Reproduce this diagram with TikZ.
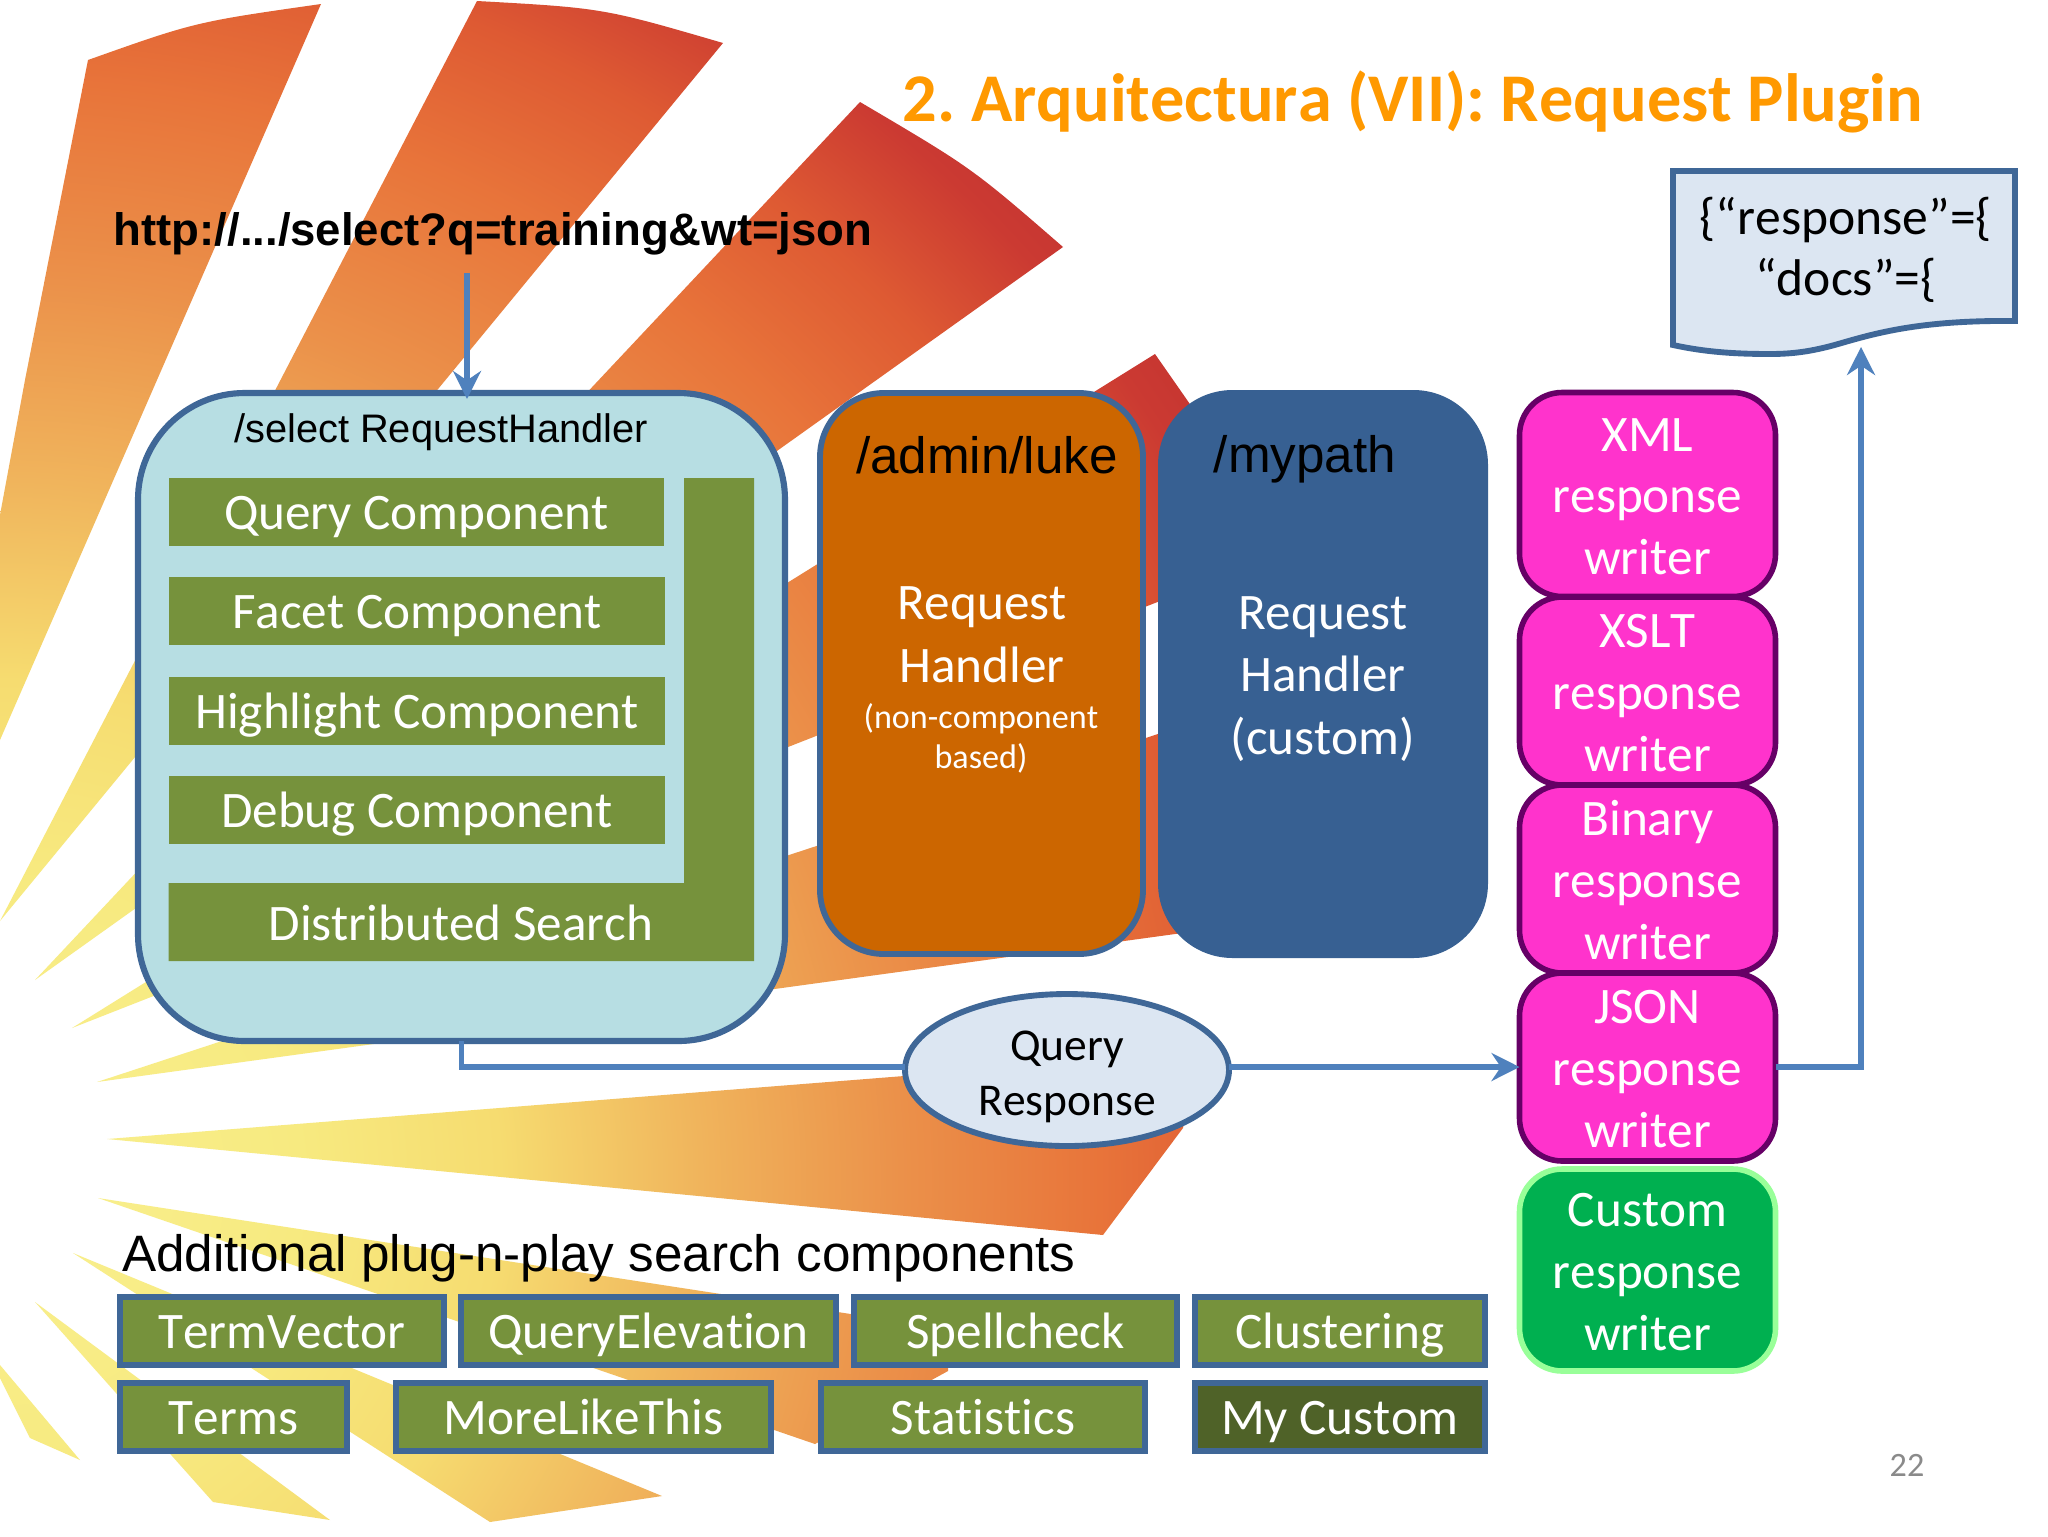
\documentclass[tikz,border=0pt]{standalone}
\usepackage{fontspec}
\setmainfont[Ligatures=NoCommon,Kerning=Off]{Carlito}
\newfontfamily\lib{Liberation Sans}
\usetikzlibrary{arrows.meta,shapes.geometric}
\definecolor{sa}{HTML}{F9F090}\definecolor{sb}{HTML}{F7EA80}\definecolor{sc}{HTML}{F6DC70}
\definecolor{sd}{HTML}{F0B45C}\definecolor{se}{HTML}{EB914A}\definecolor{sf}{HTML}{E8743A}
\definecolor{sg}{HTML}{DE5A33}\definecolor{sh}{HTML}{CB3A32}\definecolor{si}{HTML}{C03030}
\definecolor{edge}{HTML}{3F6797}\definecolor{conn}{HTML}{4F81BD}\definecolor{ogreen}{HTML}{76923C}
\definecolor{dgreen}{HTML}{4F6228}\definecolor{pale}{HTML}{B7DEE3}\definecolor{orbox}{HTML}{CC6600}
\definecolor{blbox}{HTML}{376092}\definecolor{pink}{HTML}{FF33CC}\definecolor{plum}{HTML}{660066}
\definecolor{cgreen}{HTML}{00B050}\definecolor{lgreen}{HTML}{99FF99}\definecolor{paper}{HTML}{DCE6F2}
\definecolor{ttl}{HTML}{FF9900}\definecolor{pgnum}{HTML}{8A8A8A}
\pgfdeclareradialshading{sun}{\pgfpoint{0bp}{0bp}}{color(0bp)=(sa);color(5bp)=(sb);color(8.33bp)=(sc);color(11.67bp)=(sd);color(15bp)=(se);color(18.33bp)=(sf);color(20.83bp)=(sg);color(23bp)=(sh);color(25bp)=(si);color(50bp)=(si)}
\def\upx{0.375pt}
\newcommand\firstline{\rule{0pt}{14pt}}
\tikzset{
  x=0.375pt,y=-0.375pt,
  base/.style={inner sep=0pt,outer sep=0pt,align=center,font=\fontsize{19.2}{23.4}\selectfont},
  plug/.style={base,rectangle,draw=edge,line width=2.25pt,fill=ogreen,text=white,text height=13.4pt,text depth=0pt},
  comp/.style={base,rectangle,fill=ogreen,text=white,text height=13.4pt,text depth=0pt},
  writer/.style={base,font=\fontsize{19.2}{23.1}\selectfont,rectangle,rounded corners=16pt,draw=plum,line width=2.1pt,fill=pink,text=white,minimum width=256*\upx},
  whitetext/.style={base,text=white},
  arial/.style={base,font=\lib\fontsize{19.2}{23.4}\selectfont},
  flow/.style={draw=conn,line width=2pt,-{Stealth[length=10.5pt,width=10.5pt,inset=3.5pt]}},
  flowplain/.style={draw=conn,line width=2pt},
}
\begin{document}
\frenchspacing
\begin{tikzpicture}
\useasboundingbox (0,0) rectangle (2048,1536);
\fill[white] (0,0) rectangle (2048,1536);
% sunburst
\begin{scope}
\clip
 (88,60) .. controls (195,22) .. (321,4) -- (0,740) -- (0,515) -- (25,380) -- cycle
 (477,1) .. controls (603,8) .. (723,43) -- (0,921) -- cycle
 (860,102) .. controls (972,168) .. (1063,247) -- (35,980) -- cycle
 (1155,354) -- (1185,397) -- (1290,550) -- (72,1028) -- cycle
 (97,1082) -- (1350,671) -- (1350,910) -- cycle
 (107,1139) -- (1195,1053) -- (1183,1128) -- (1103,1235) -- cycle
 (98,1198) -- (948,1329) -- (948,1371) -- (815,1444) -- cycle
 (73,1253) -- (662,1496) -- (490,1522) -- cycle
 (35,1302) -- (330,1520) -- (213,1502) -- cycle
 (0,1365) -- (80,1460) -- (30,1438) -- (0,1378) -- cycle;
\shade[shading=sun] (0,1180) circle[radius=1500];
\end{scope}
% title and url
\node[base,font=\bfseries\fontsize{25.6}{30}\selectfont,text=ttl] (title) at (1413,101.5) {2. Arquitectura (VII): Request Plugin};
\node[arial,font=\lib\bfseries\fontsize{17.07}{20}\selectfont] (url) at (493,234) {http://.../select?q=training\&wt=json};
% select handler
\node[base,rectangle,rounded corners=40pt,draw=edge,line width=2.3pt,fill=pale,minimum width=647*\upx,minimum height=648*\upx] (sel) at (461.5,717) {};
\node[arial,font=\lib\fontsize{14.93}{18}\selectfont] (seltitle) at (441,432) {/select RequestHandler};
\fill[ogreen] (684,478) -- (754,478) -- (754,961) -- (168.5,961) -- (168.5,883) -- (684,883) -- cycle;
\node[comp,minimum width=495*\upx,minimum height=68*\upx] (qc) at (416.5,512) {Query Component};
\node[comp,minimum width=496*\upx,minimum height=68*\upx] (fc) at (417,611) {Facet Component};
\node[comp,minimum width=496*\upx,minimum height=68*\upx] (hc) at (417,710.5) {Highlight Component};
\node[comp,minimum width=496*\upx,minimum height=68*\upx] (dc) at (417,810) {Debug Component};
\node[whitetext,text height=13.4pt,text depth=0pt] (ds) at (461,923) {Distributed Search};
% other handlers
\node[base,rectangle,rounded corners=24pt,draw=edge,line width=2.2pt,fill=orbox,minimum width=323*\upx,minimum height=561*\upx] (luke) at (981.5,673.5) {};
\node[base,rectangle,rounded corners=28pt,fill=blbox,minimum width=330*\upx,minimum height=568*\upx] (mypath) at (1323,674) {};
\node[arial] (luket) at (987,455) {/admin/luke};
\node[arial] (mypt) at (1305,459) {/mypath};
\node[whitetext] (lukeb) at (982,634.5) {Request\\[0.4pt]Handler};
\node[whitetext,font=\fontsize{12.8}{15.2}\selectfont] (lukec) at (981,738.5) {(non-component\\based)};
\node[whitetext] (myb) at (1323,679) {Request\\Handler\\(custom)};
% writers
\node[writer,minimum height=204*\upx] (xml) at (1647.5,494.5) {\firstline XML\\response\\writer};
\node[writer,minimum height=188*\upx] (xslt) at (1647.5,691) {\firstline XSLT\\response\\writer};
\node[writer,minimum height=188*\upx] (bin) at (1647.5,879) {\firstline Binary\\response\\writer};
\node[writer,minimum height=188*\upx] (json) at (1647.5,1067) {\firstline JSON\\response\\writer};
\node[writer,draw=lgreen,fill=cgreen,minimum height=202*\upx] (cust) at (1647.5,1270) {\firstline Custom\\response\\writer};
% query response
\node[base,ellipse,draw=edge,line width=2.2pt,fill=paper,minimum width=324*\upx,minimum height=152*\upx,font=\fontsize{17.07}{20.6}\selectfont] (qr) at (1067,1070) {\rule{0pt}{16pt}Query\\Response};
% document
\draw[edge,line width=2.2pt,fill=paper] (1673,171) -- (2015,171) -- (2015,321) .. controls (1925,320) and (1880,332) .. (1845,342) .. controls (1815,351) and (1795,354) .. (1770,354) .. controls (1735,354) and (1705,352) .. (1673,345) -- cycle;
\node[base,font=\fontsize{19.35}{22.9}\selectfont] (doct) at (1846,250) {\{“response”=\{\\“docs”=\{};
% connectors
\coordinate (urlout) at (467,273);
\coordinate (selin) at (467,399);
\coordinate (docin) at (1861,347);
\draw[flow] (urlout) -- (selin);
\draw[flowplain] (sel.south) -- (sel.south |- json.west) -- (qr.west |- json.west);
\draw[flow] (qr.east |- json.west) -- (json.west);
\draw[flow] (json.east) -- (docin |- json.east) -- (docin);
% plug-in components
\node[arial] (addl) at (599,1258.5) {Additional plug-n-play search components};
\node[plug,minimum width=324*\upx,minimum height=68*\upx] (tv) at (282,1331) {TermVector};
\node[plug,minimum width=375*\upx,minimum height=68*\upx] (qe) at (648.5,1331) {QueryElevation};
\node[plug,minimum width=323*\upx,minimum height=68*\upx] (sp) at (1015.5,1331) {Spellcheck};
\node[plug,minimum width=290*\upx,minimum height=68*\upx] (cl) at (1340,1331) {Clustering};
\node[plug,minimum width=227*\upx,minimum height=68*\upx] (te) at (233.5,1416.5) {Terms};
\node[plug,minimum width=375*\upx,minimum height=68*\upx] (ml) at (583.5,1416.5) {MoreLikeThis};
\node[plug,minimum width=324*\upx,minimum height=68*\upx] (st) at (983,1416.5) {Statistics};
\node[plug,fill=dgreen,minimum width=290*\upx,minimum height=68*\upx] (my) at (1340,1416.5) {My Custom};
\node[base,font=\fontsize{12.8}{15}\selectfont,text=pgnum] (pg) at (1907,1465) {22};
\end{tikzpicture}
\end{document}
